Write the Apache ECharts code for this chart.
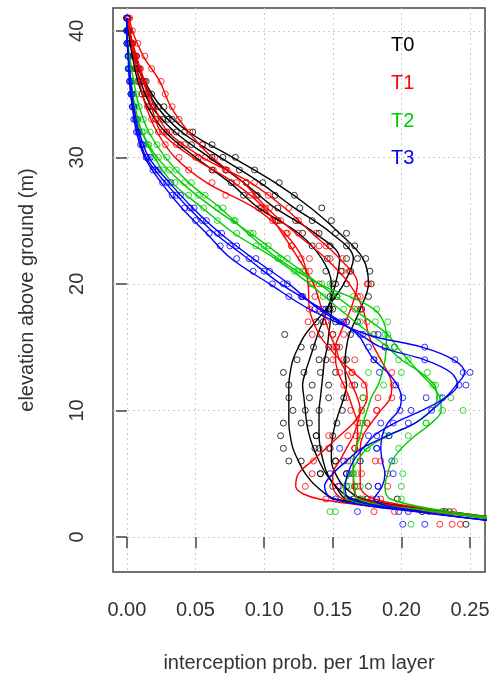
<!DOCTYPE html>
<html>
<head>
<meta charset="utf-8">
<script src="https://cdn.jsdelivr.net/npm/echarts@6/dist/echarts.min.js"></script>
<style>
  html, body { margin: 0; padding: 0; background: #fff; }
  #main { width: 491px; height: 674px; }
</style>
</head>
<body>
<div id="main"></div>
<script>
// elevation of the 1m layers (points) and of the fitted profile nodes
var PT_H = [1,2,3,4,5,6,7,8,9,10,11,12,13,14,15,16,17,18,19,20,21,22,23,24,25,26,27,28,29,30,31,32,33,34,35,36,37,38,39,40,41];
var FIT_H = [1,2,3,4,5,6,7,8,9,10,11,12,13,14,15,16,18,20,22,24,26,28,30,32,34,36,38,40,41];

// T0 (black)
var T0_FIT_A = [.31,.235,.172,.158,.152,.149,.149,.150,.152,.155,.158,.160,.159,.159,.160,.162,.170,.176,.172,.155,.134,.108,.077,.045,.025,.013,.006,.002,0];
var T0_FIT_B = [.30,.225,.152,.138,.130,.125,.121,.119,.118,.118,.118,.118,.119,.121,.125,.130,.145,.158,.165,.149,.122,.097,.068,.040,.022,.012,.006,.002,0];
var T0_FIT_C = [.30,.228,.160,.152,.145,.140,.136,.133,.131,.130,.129,.128,.130,.133,.136,.139,.146,.152,.155,.137,.108,.085,.060,.035,.018,.010,.005,.002,0];
var T0_FIT_D = [.30,.232,.165,.152,.146,.143,.141,.140,.140,.140,.141,.142,.143,.144,.146,.147,.149,.149,.142,.125,.096,.075,.050,.028,.015,.008,.004,.001,0];
var T0_PTS_A = [.275,.232,.197,.176,.160,.152,.148,.150,.153,.157,.158,.166,.152,.160,.153,.163,.168,.171,.176,.178,.177,.174,.166,.160,.149,.142,.122,.111,.093,.079,.062,.048,.033,.027,.018,.014,.009,.007,.004,.002,0];
var T0_PTS_B = [.247,.215,.160,.150,.141,.118,.114,.112,.114,.121,.118,.118,.114,.124,.127,.115,.138,.147,.153,.160,.163,.168,.160,.152,.135,.126,.108,.099,.082,.070,.055,.042,.030,.023,.016,.012,.008,.006,.004,.001,0];
var T0_PTS_C = [.285,.230,.170,.160,.141,.127,.137,.138,.127,.130,.133,.135,.129,.140,.136,.141,.143,.148,.150,.152,.156,.160,.148,.140,.123,.110,.095,.087,.072,.062,.047,.036,.026,.019,.014,.010,.007,.005,.003,.002,0];
var T0_PTS_D = [.29,.235,.175,.166,.160,.152,.140,.138,.133,.140,.147,.147,.141,.145,.147,.150,.152,.150,.148,.150,.145,.146,.135,.128,.110,.098,.085,.076,.062,.052,.039,.029,.021,.016,.011,.008,.006,.004,.002,.001,0];

// T1 (red)
var T1_FIT_A = [.30,.22,.14,.123,.125,.135,.145,.155,.165,.171,.175,.174,.165,.155,.147,.140,.133,.132,.128,.115,.093,.058,.035,.022,.014,.009,.005,.002,.001];
var T1_FIT_B = [.31,.235,.18,.170,.170,.170,.170,.172,.178,.185,.192,.193,.190,.185,.180,.176,.172,.162,.145,.123,.102,.085,.062,.045,.032,.024,.012,.004,.002];
var T1_FIT_C = [.30,.225,.158,.150,.150,.155,.160,.165,.168,.170,.168,.164,.160,.155,.152,.148,.142,.136,.125,.113,.100,.078,.048,.025,.018,.012,.006,.002,.001];
var T1_FIT_D = [.30,.228,.170,.165,.165,.165,.167,.168,.168,.165,.162,.158,.154,.152,.152,.155,.163,.168,.155,.135,.115,.090,.055,.030,.020,.013,.007,.002,.001];
var T1_PTS_A = [.228,.18,.145,.130,.135,.136,.147,.147,.168,.171,.183,.173,.164,.166,.150,.135,.132,.133,.128,.134,.133,.133,.120,.117,.106,.096,.072,.062,.045,.038,.028,.023,.018,.015,.011,.009,.007,.005,.003,.002,.001];
var T1_PTS_B = [.29,.238,.185,.190,.190,.181,.166,.161,.175,.182,.193,.194,.193,.180,.188,.180,.175,.170,.168,.175,.157,.148,.140,.125,.112,.104,.094,.087,.073,.064,.055,.046,.038,.033,.028,.025,.018,.013,.008,.004,.002];
var T1_PTS_C = [.237,.195,.160,.155,.171,.185,.166,.167,.175,.182,.172,.164,.164,.158,.155,.150,.145,.140,.137,.140,.130,.127,.120,.116,.108,.101,.090,.080,.063,.050,.036,.026,.021,.018,.015,.012,.009,.006,.004,.002,.001];
var T1_PTS_D = [.243,.22,.178,.168,.165,.161,.166,.170,.170,.163,.160,.158,.155,.150,.152,.158,.160,.166,.170,.176,.162,.157,.145,.138,.125,.118,.103,.093,.072,.057,.042,.031,.024,.020,.016,.013,.010,.007,.004,.002,.001];

// T2 (green)
var T2_FIT_A = [.31,.235,.192,.188,.190,.193,.200,.210,.222,.229,.228,.222,.213,.205,.197,.190,.165,.140,.115,.090,.063,.040,.022,.011,.005,.003,.001,0,0];
var T2_FIT_B = [.30,.225,.160,.158,.163,.168,.175,.190,.210,.222,.226,.224,.214,.200,.190,.178,.155,.133,.108,.078,.055,.033,.020,.011,.006,.003,.001,0,0];
var T2_FIT_C = [.30,.225,.168,.166,.165,.165,.167,.170,.172,.175,.178,.183,.186,.188,.189,.189,.180,.140,.110,.088,.068,.045,.028,.016,.009,.005,.002,0,0];
var T2_PTS_A = [.28,.23,.200,.200,.201,.195,.198,.205,.218,.245,.236,.223,.219,.205,.195,.188,.181,.168,.153,.142,.128,.117,.103,.092,.078,.066,.052,.042,.031,.023,.016,.012,.008,.005,.004,.003,.002,.001,.001,0,0];
var T2_PTS_B = [.285,.148,.165,.162,.165,.170,.175,.188,.218,.230,.228,.225,.200,.198,.195,.180,.170,.158,.143,.135,.122,.110,.094,.080,.066,.056,.045,.035,.026,.020,.015,.011,.008,.006,.004,.003,.002,.001,.001,0,0];
var T2_PTS_C = [.207,.152,.172,.170,.168,.163,.175,.191,.172,.171,.172,.187,.176,.183,.195,.190,.190,.182,.165,.148,.125,.112,.100,.090,.079,.070,.057,.047,.036,.029,.022,.017,.012,.009,.007,.005,.003,.002,.001,0,0];

// T3 (blue)
var T3_FIT_A = [.29,.21,.150,.144,.150,.160,.171,.190,.210,.222,.232,.240,.246,.238,.215,.175,.133,.104,.076,.058,.040,.025,.013,.007,.004,.002,.001,0,0];
var T3_FIT_B = [.29,.212,.162,.159,.161,.165,.172,.180,.195,.215,.232,.241,.236,.217,.185,.170,.140,.118,.092,.068,.048,.031,.016,.009,.005,.003,.001,0,0];
var T3_FIT_C = [.29,.215,.180,.186,.188,.186,.185,.186,.190,.198,.200,.197,.190,.180,.174,.168,.142,.112,.088,.064,.045,.028,.014,.008,.004,.002,.001,0,0];
var T3_PTS_A = [.275,.168,.152,.154,.148,.158,.155,.182,.205,.222,.230,.242,.250,.239,.217,.183,.160,.137,.118,.106,.092,.080,.068,.060,.050,.042,.033,.026,.019,.014,.010,.007,.005,.004,.003,.002,.001,.001,0,0,0];
var T3_PTS_B = [.217,.205,.165,.183,.162,.170,.182,.176,.185,.207,.218,.247,.245,.217,.188,.172,.155,.143,.128,.117,.104,.094,.080,.069,.058,.049,.039,.032,.023,.017,.012,.009,.007,.005,.004,.003,.002,.001,.001,0,0];
var T3_PTS_C = [.201,.198,.182,.183,.194,.193,.182,.191,.194,.199,.201,.196,.184,.180,.176,.170,.158,.145,.127,.114,.100,.089,.075,.066,.055,.046,.036,.029,.021,.015,.011,.008,.006,.004,.003,.002,.001,.001,0,0,0];

var GROUPS = ['T0', 'T1', 'T2', 'T3'];
var X_TICKS = [0, 0.05, 0.10, 0.15, 0.20, 0.25];
var Y_TICKS = [0, 10, 20, 30, 40];

var COLORS = ['#000000', '#ff0000', '#00cc00', '#0000ff'];
var FONT = 'Liberation Sans';

var curves = [
    [0, T0_FIT_A, T0_PTS_A], [0, T0_FIT_B, T0_PTS_B], [0, T0_FIT_C, T0_PTS_C], [0, T0_FIT_D, T0_PTS_D],
    [1, T1_FIT_A, T1_PTS_A], [1, T1_FIT_B, T1_PTS_B], [1, T1_FIT_C, T1_PTS_C], [1, T1_FIT_D, T1_PTS_D],
    [2, T2_FIT_A, T2_PTS_A], [2, T2_FIT_B, T2_PTS_B], [2, T2_FIT_C, T2_PTS_C],
    [3, T3_FIT_A, T3_PTS_A], [3, T3_FIT_B, T3_PTS_B], [3, T3_FIT_C, T3_PTS_C]
];

var series = [];
curves.forEach(function (c) {
    var col = COLORS[c[0]];
    series.push({
        name: GROUPS[c[0]],
        type: 'line',
        data: FIT_H.map(function (h, i) { return [c[1][i], h]; }),
        smooth: 0.35,
        showSymbol: false,
        clip: true,
        lineStyle: { color: col, width: 1.4 },
        silent: true
    });
    series.push({
        name: GROUPS[c[0]],
        type: 'scatter',
        data: PT_H.map(function (h, i) { return [c[2][i], h]; }),
        symbol: 'circle',
        symbolSize: 6,
        clip: true,
        itemStyle: { color: 'rgba(0,0,0,0)', borderColor: col, borderWidth: 1 },
        silent: true
    });
});

var chart = echarts.init(document.getElementById('main'), null, { renderer: 'canvas' });
chart.setOption({
    animation: false,
    backgroundColor: '#ffffff',
    grid: {
        left: 113, right: 6, top: 8, bottom: 102,
        outerBoundsMode: 'none',
        containLabel: false,
        show: true, borderColor: '#444', borderWidth: 1.5
    },
    xAxis: {
        type: 'value',
        min: -0.0101,
        max: 0.2609,
        axisLine: { show: false },
        axisTick: { show: true, length: 11, customValues: X_TICKS, lineStyle: { color: '#444', width: 1.5 } },
        axisLabel: {
            customValues: X_TICKS,
            formatter: function (v) { return v.toFixed(2); },
            margin: 28, fontSize: 20, color: '#333', fontFamily: FONT
        },
        splitLine: { show: true, lineStyle: { color: '#cccccc', type: [2, 3], width: 1 } },
        name: 'interception prob. per 1m layer',
        nameLocation: 'middle',
        nameGap: 81,
        nameTextStyle: { fontSize: 20, color: '#333', fontFamily: FONT }
    },
    yAxis: {
        type: 'value',
        min: -2.77,
        max: 41.8,
        axisLine: { show: false },
        axisTick: { show: true, length: 11, customValues: Y_TICKS, lineStyle: { color: '#444', width: 1.5 } },
        axisLabel: {
            customValues: Y_TICKS,
            rotate: 90,
            margin: 26, fontSize: 20, color: '#333', fontFamily: FONT
        },
        splitLine: { show: true, lineStyle: { color: '#cccccc', type: [2, 3], width: 1 } },
        name: 'elevation above ground (m)',
        nameLocation: 'middle',
        nameRotate: 90,
        nameGap: 76,
        nameTextStyle: { fontSize: 20, color: '#333', fontFamily: FONT }
    },
    graphic: GROUPS.map(function (g, i) {
        return {
            type: 'text',
            left: 391,
            top: [35, 73, 111, 148][i],
            style: { text: g, fill: COLORS[i], font: '20px "' + FONT + '"' }
        };
    }),
    series: series
});
</script>
</body>
</html>
